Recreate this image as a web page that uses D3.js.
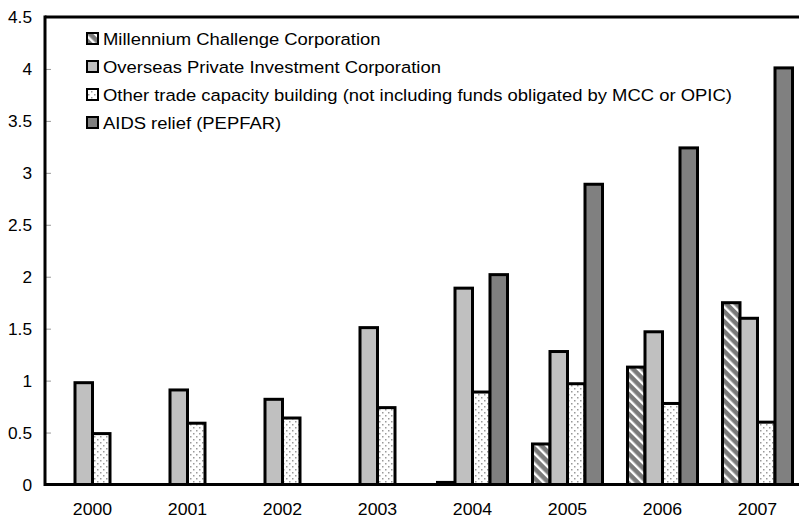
<!DOCTYPE html>
<html><head><meta charset="utf-8">
<script src="https://cdn.jsdelivr.net/npm/d3@7"></script>
<style>body{margin:0;background:#fff}svg{display:block;font-family:"Liberation Sans",Arial,sans-serif}</style>
</head><body><svg id="c" width="799" height="518"></svg>
<script>
const years = ["2000","2001","2002","2003","2004","2005","2006","2007"];
const seriesNames = [
  "Millennium Challenge Corporation",
  "Overseas Private Investment Corporation",
  "Other trade capacity building (not including funds obligated by MCC or OPIC)",
  "AIDS relief (PEPFAR)"
];
const mccValues   = [0, 0, 0, 0, 0.02, 0.39, 1.13, 1.75];
const opicValues  = [0.98, 0.91, 0.82, 1.51, 1.89, 1.28, 1.47, 1.60];
const otherValues = [0.49, 0.59, 0.64, 0.74, 0.89, 0.97, 0.78, 0.60];
const aidsValues  = [0, 0, 0, 0, 2.02, 2.89, 3.24, 4.01];
const yTicks = [0,0.5,1,1.5,2,2.5,3,3.5,4,4.5];
const seriesValues = [mccValues, opicValues, otherValues, aidsValues];

const svg = d3.select("#c");
const defs = svg.append("defs");
const ps = defs.append("pattern").attr("id","stripe").attr("patternUnits","userSpaceOnUse")
  .attr("width",7).attr("height",7).attr("patternTransform","rotate(45)");
ps.append("rect").attr("width",7).attr("height",7).attr("fill","#fff");
ps.append("rect").attr("width",7).attr("height",4.6).attr("fill","#7a7a7a");
const pd = defs.append("pattern").attr("id","dots").attr("patternUnits","userSpaceOnUse")
  .attr("width",6).attr("height",6);
pd.append("rect").attr("width",6).attr("height",6).attr("fill","#fff");
pd.append("rect").attr("x",1).attr("y",1).attr("width",1.5).attr("height",1.5).attr("fill","#999");
pd.append("rect").attr("x",4).attr("y",4).attr("width",1.5).attr("height",1.5).attr("fill","#999");

const fills = ["url(#stripe)","#c0c0c0","url(#dots)","#808080"];

const mLeft = 45, mRight = 805, mTop = 17, mBottom = 484.5;
const x0 = d3.scaleBand().domain(years).range([mLeft,mRight]).paddingInner(0.263).paddingOuter(0.1315);
const x1 = d3.scaleBand().domain(d3.range(4)).range([0,x0.bandwidth()]);
const y = d3.scaleLinear().domain([0,4.5]).range([mBottom,mTop]);

const g = svg.append("g");
years.forEach((yr,i)=>{
  seriesValues.forEach((vals,s)=>{
    const v = vals[i];
    if(v<=0) return;
    g.append("rect")
      .attr("x", x0(yr)+x1(s))
      .attr("y", y(v))
      .attr("width", x1.bandwidth())
      .attr("height", y(0)-y(v))
      .attr("fill", fills[s])
      .attr("stroke","#000").attr("stroke-width",3);
  });
});

const yAxis = d3.axisRight(y).tickValues(yTicks).tickSize(6).tickFormat(d=>d3.format("")(d));
const ya = svg.append("g").attr("transform",`translate(${mLeft},0)`).call(yAxis);
ya.select(".domain").remove();
ya.selectAll(".tick line").attr("stroke","#999").attr("stroke-width",1);
ya.selectAll(".tick text").attr("x",0).attr("text-anchor","end")
  .attr("font-size",16).attr("fill","#000").attr("dy","0.35em")
  .attr("transform","translate(-13,0) scale(1.08,1)");

const xa = svg.append("g").attr("transform",`translate(0,${mBottom})`)
  .call(d3.axisBottom(x0).tickSize(0).tickPadding(0));
xa.select(".domain").remove();
xa.selectAll(".tick text").attr("y",31).attr("dy",0).attr("font-size",17).attr("fill","#000")
  .attr("transform","scale(1.04,1)");

svg.append("line").attr("x1",mLeft).attr("x2",mRight).attr("y1",mBottom).attr("y2",mBottom).attr("stroke","#000").attr("stroke-width",3);
svg.append("line").attr("x1",mLeft).attr("x2",mRight).attr("y1",mTop).attr("y2",mTop).attr("stroke","#000").attr("stroke-width",3);
svg.append("line").attr("x1",mLeft).attr("x2",mLeft).attr("y1",mTop-1.5).attr("y2",mBottom+1.5).attr("stroke","#000").attr("stroke-width",3);

const lg = svg.append("g");
seriesNames.forEach((name,i)=>{
  const yy = 33 + i*28;
  lg.append("rect").attr("x",87).attr("y",yy).attr("width",11).attr("height",11)
    .attr("fill",fills[i]).attr("stroke","#000").attr("stroke-width",2);
  lg.append("text").attr("x",0).attr("y",yy+12).attr("font-size",17)
    .attr("transform","translate(103,0) scale(1.085,1)").text(name);
});
</script></body></html>
